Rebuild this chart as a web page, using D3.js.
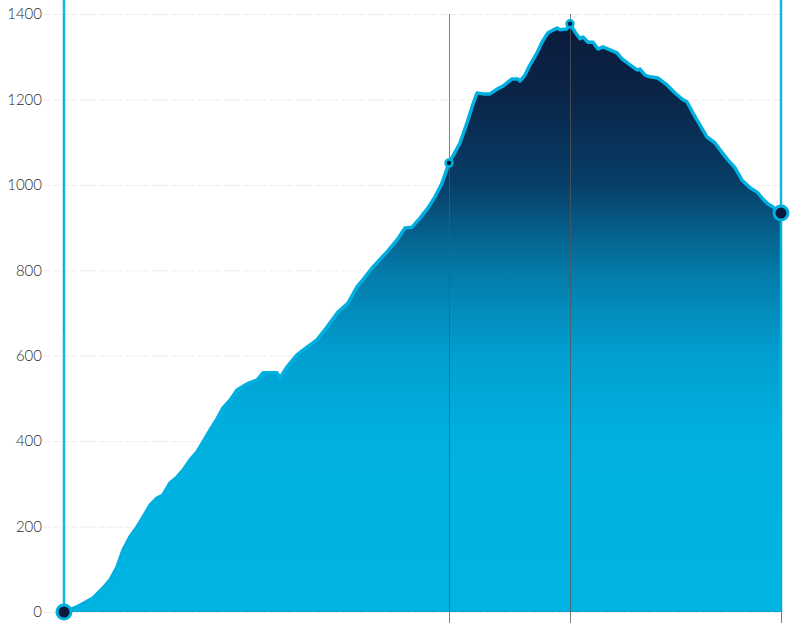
<!DOCTYPE html>
<html>
<head>
<meta charset="utf-8">
<script src="https://cdn.jsdelivr.net/npm/d3@7"></script>
<style>
  html, body { margin: 0; padding: 0; background: #fff; }
  svg { display: block; }
  .tick text { font-family: Lato, "Open Sans", sans-serif; font-weight: 300; font-size: 15px; fill: #2a2a2a; }
</style>
</head>
<body>
<svg id="chart" width="809" height="623"></svg>
<script>
// distance (km) along the route
const distance = [0, 1.1, 2.0, 2.9, 3.9, 4.6, 5.3, 5.9, 6.6, 7.3, 7.9, 8.6, 9.3, 9.9, 10.6, 11.3, 11.9, 12.6, 13.3, 13.9,
  14.6, 15.3, 15.9, 16.6, 17.3, 18.3, 19.3, 19.9, 20.6, 21.3, 21.6, 22.3, 23.3, 24.3, 25.3, 26.3, 27.4, 28.4, 29.3, 30.1,
  30.9, 32.3, 33.3, 34.1, 34.8, 35.6, 36.4, 37.1, 37.8, 38.5, 39.6, 40.3, 40.8, 41.3, 41.9, 42.6, 43.3, 43.9, 44.8, 45.4,
  45.6, 46.1, 46.6, 47.3, 47.8, 48.4, 49.3, 49.6, 50.3, 50.6, 51.1, 51.6, 51.9, 52.4, 52.9, 53.4, 53.9, 54.6, 55.3, 55.8,
  56.6, 57.3, 57.6, 58.1, 58.6, 59.4, 60.3, 61.1, 61.8, 62.3, 62.9, 63.6, 64.3, 65.1, 65.6, 66.4, 67.1, 67.8, 68.6, 69.3,
  69.9, 70.4, 70.9, 71.7];
// elevation (m)
const elevation = [0, 10, 21, 33, 56, 75, 105, 145, 176, 199, 222, 250, 267, 274, 302, 316, 332, 356, 375, 398,
  426, 452, 478, 496, 520, 534, 543, 560, 560, 560, 548, 574, 602, 620, 637, 667, 702, 723, 761, 784,
  808, 843, 871, 899, 901, 922, 946, 972, 1004, 1051, 1098, 1145, 1182, 1215, 1213, 1213, 1224, 1231, 1248, 1248,
  1243, 1257, 1281, 1309, 1334, 1356, 1367, 1363, 1365, 1377, 1358, 1342, 1346, 1334, 1334, 1318, 1323, 1316, 1309, 1295,
  1281, 1269, 1271, 1257, 1253, 1250, 1234, 1215, 1201, 1194, 1168, 1140, 1112, 1098, 1082, 1058, 1040, 1011, 993, 983,
  967, 955, 948, 934];
const yTicks = [0, 200, 400, 600, 800, 1000, 1200, 1400];
// marked points: start, waypoint, summit, finish
const markDistance = [0, 38.5, 50.6, 71.7];
const markElevation = [0, 1051, 1377, 934];
const markSize = ["big", "small", "small", "big"];
const dividerDistance = [38.5, 50.6];

const data = distance.map((d, i) => ({ d, e: elevation[i] }));
const svg = d3.select("#chart");
const W = 809, H = 623;
const x = d3.scaleLinear().domain([0, 71.7]).range([64, 781]);
const y = d3.scaleLinear().domain([0, 1400]).range([612, 14]);

// gradient
const defs = svg.append("defs");
const grad = defs.append("linearGradient").attr("id", "fillGrad")
  .attr("gradientUnits", "userSpaceOnUse")
  .attr("x1", 0).attr("x2", 0).attr("y1", y(1400)).attr("y2", y(0));
[[0, "#0b1a3a"], [0.13, "#0a2447"], [0.28, "#073d66"], [0.43, "#047aa8"], [0.57, "#019fd0"], [0.72, "#00b1e0"], [1, "#00b4e2"]]
  .forEach(([o, c]) => grad.append("stop").attr("offset", o).attr("stop-color", c));

// gridlines
svg.append("g").selectAll("line").data(yTicks).join("line")
  .attr("x1", 44).attr("x2", x(71.7))
  .attr("y1", d => y(d) + 0.5).attr("y2", d => y(d) + 0.5)
  .attr("stroke", "#ececec").attr("stroke-width", 1).attr("stroke-dasharray", "7,2");

// y axis labels
const ax = svg.append("g").attr("transform", `translate(${x(0)},0)`)
  .call(d3.axisLeft(y).tickValues(yTicks).tickSize(0).tickPadding(22).tickFormat(d3.format("d")));
ax.select(".domain").remove();

// area
const area = d3.area().x(d => x(d.d)).y0(y(0)).y1(d => y(d.e));
svg.append("path").datum(data).attr("d", area).attr("fill", "url(#fillGrad)");

// baseline
svg.append("line").attr("x1", x(0)).attr("x2", x(71.7)).attr("y1", y(0) - 0.5).attr("y2", y(0) - 0.5)
  .attr("stroke", "#0aa6d6").attr("stroke-width", 1);

// divider lines
svg.append("g").selectAll("line").data(dividerDistance).join("line")
  .attr("x1", d => Math.round(x(d)) + 0.5).attr("x2", d => Math.round(x(d)) + 0.5)
  .attr("y1", y(1400)).attr("y2", H)
  .attr("stroke", "#555").attr("stroke-opacity", 0.75).attr("stroke-width", 1);
svg.append("line").attr("x1", x(71.7) + 0.5).attr("x2", x(71.7) + 0.5).attr("y1", y(0)).attr("y2", H)
  .attr("stroke", "#777").attr("stroke-width", 1);

// profile line
const line = d3.line().x(d => x(d.d)).y(d => y(d.e));
svg.append("path").datum(data).attr("d", line)
  .attr("fill", "none").attr("stroke", "#00b0e0").attr("stroke-width", 3.5).attr("stroke-linejoin", "round");

// start/end vertical lines
svg.append("line").attr("x1", x(0) - 0.5).attr("x2", x(0) - 0.5).attr("y1", y(1400)).attr("y2", 333)
  .attr("stroke", "#777").attr("stroke-width", 1);
svg.append("g").selectAll("line").data([0, 71.7]).join("line")
  .attr("x1", d => x(d)).attr("x2", d => x(d))
  .attr("y1", 0).attr("y2", d => y(d === 0 ? 0 : 934))
  .attr("stroke", "#00b0e0").attr("stroke-width", 2.5).attr("stroke-opacity", 0.92);
svg.append("line").attr("x1", x(71.7)).attr("x2", x(71.7)).attr("y1", y(934)).attr("y2", y(0))
  .attr("stroke", "#00b0e0").attr("stroke-width", 2.5);

// markers
svg.append("g").selectAll("circle").data(markDistance).join("circle")
  .attr("cx", d => x(d)).attr("cy", (d, i) => y(markElevation[i]))
  .attr("r", (d, i) => markSize[i] === "big" ? 7 : 3.5)
  .attr("fill", "#0b1a3a").attr("stroke", "#00b0e0")
  .attr("stroke-width", (d, i) => markSize[i] === "big" ? 3 : 2.5);
</script>
</body>
</html>
